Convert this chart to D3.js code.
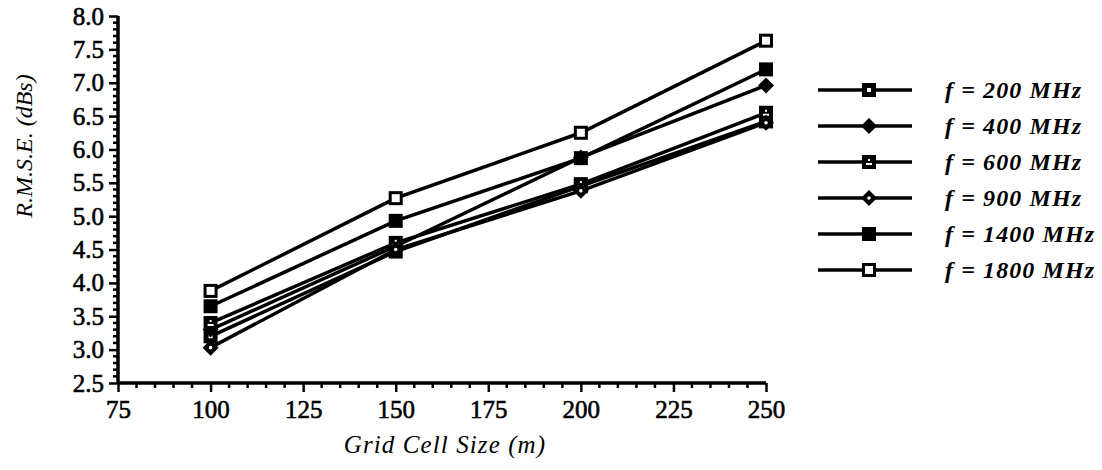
<!DOCTYPE html>
<html>
<head>
<meta charset="utf-8">
<script src="https://cdn.jsdelivr.net/npm/d3@7"></script>
<style>
  body { margin: 0; background: #fff; }
  svg text { font-family: "Liberation Serif", "Times New Roman", serif; fill: #000; }
</style>
</head>
<body>
<div id="chart"></div>
<script>
const width = 1102;
const height = 470;

// data
const gridSizes = [100, 150, 200, 250];
const seriesNames = ["f = 200 MHz", "f = 400 MHz", "f = 600 MHz", "f = 900 MHz", "f = 1400 MHz", "f = 1800 MHz"];
const markerTypes = ["dotSquare", "diamond", "markSquare", "dotDiamond", "square", "openSquare"];
const f200 = [3.2, 4.47, 5.45, 6.42];
const f400 = [3.3, 4.55, 5.88, 6.96];
const f600 = [3.4, 4.6, 5.48, 6.55];
const f900 = [3.03, 4.5, 5.38, 6.4];
const f1400 = [3.65, 4.93, 5.87, 7.2];
const f1800 = [3.88, 5.27, 6.25, 7.63];
const seriesValues = [f200, f400, f600, f900, f1400, f1800];
const xTicks = [75, 100, 125, 150, 175, 200, 225, 250];
const yTicks = [2.5, 3.0, 3.5, 4.0, 4.5, 5.0, 5.5, 6.0, 6.5, 7.0, 7.5, 8.0];

const svg = d3.select('#chart')
              .append('svg')
              .attr('width', width)
              .attr('height', height);

const xScale = d3.scaleLinear().domain([75, 250]).range([118, 766]);
const yScale = d3.scaleLinear().domain([2.5, 8]).range([383, 16]);

// minor ticks
const xMinor = d3.range(75, 251, 5).filter(v => v % 25 !== 0);
const yMinor = d3.range(25, 81, 1).map(v => v / 10).filter(v => Math.round(v * 10) % 5 !== 0);

const xAxis = d3.axisBottom(xScale).tickValues(xTicks).tickSize(9).tickPadding(8)
                .tickFormat(d3.format('d'));
const yAxis = d3.axisLeft(yScale).tickValues(yTicks).tickSize(9).tickPadding(5)
                .tickFormat(d3.format('.1f'));

const gx = svg.append('g')
              .attr('transform', `translate(0,${yScale(2.5)})`)
              .call(xAxis);
gx.append('g').selectAll('line')
  .data(xMinor)
  .enter()
  .append('line')
  .attr('x1', d => xScale(d)).attr('x2', d => xScale(d))
  .attr('y1', 0).attr('y2', 5)
  .attr('stroke', '#000').attr('stroke-width', 2.5);

const gy = svg.append('g')
              .attr('transform', `translate(${xScale(75)},0)`)
              .call(yAxis);
gy.append('g').selectAll('line')
  .data(yMinor)
  .enter()
  .append('line')
  .attr('y1', d => yScale(d)).attr('y2', d => yScale(d))
  .attr('x1', 0).attr('x2', -5)
  .attr('stroke', '#000').attr('stroke-width', 2.5);

[gx, gy].forEach(g => {
  g.attr('font-family', null);
  g.select('.domain').attr('stroke', '#000').attr('stroke-width', 3.5);
  g.selectAll('.tick line').attr('stroke', '#000').attr('stroke-width', 2.5);
  g.selectAll('.tick text')
   .style('font-size', '25px')
   .attr('stroke', '#000').attr('stroke-width', 0.6);
});
gy.select('.domain').attr('d', `M0,${yScale(8)}V${yScale(2.5)}`);
gx.select('.domain').attr('d', `M${xScale(75)},0H${xScale(250)}`);

// axis titles
svg.append('text')
   .attr('x', 445)
   .attr('y', 453)
   .attr('text-anchor', 'middle')
   .style('font-size', '25px')
   .style('font-style', 'italic')
   .style('letter-spacing', '1.1px')
   .text('Grid Cell Size (m)');

svg.append('text')
   .attr('transform', 'translate(32,146) rotate(-90)')
   .attr('text-anchor', 'middle')
   .style('font-size', '24px')
   .style('font-style', 'italic')
   .text('R.M.S.E.  (dBs)');

function drawMarker(g, type, cx, cy) {
  const s = 14;
  if (type === 'diamond' || type === 'dotDiamond') {
    const r = 8;
    g.append('path')
     .attr('d', `M${cx},${cy - r}L${cx + r},${cy}L${cx},${cy + r}L${cx - r},${cy}Z`)
     .attr('fill', '#000');
    if (type === 'dotDiamond') {
      g.append('circle').attr('cx', cx).attr('cy', cy).attr('r', 1.8).attr('fill', '#fff');
    }
  } else {
    g.append('rect')
     .attr('x', cx - s / 2).attr('y', cy - s / 2)
     .attr('width', s).attr('height', s)
     .attr('fill', '#000');
    if (type === 'openSquare') {
      g.append('rect').attr('x', cx - 4).attr('y', cy - 4).attr('width', 8).attr('height', 8)
       .attr('fill', '#fff');
    } else if (type === 'dotSquare') {
      g.append('rect').attr('x', cx - 2).attr('y', cy - 2).attr('width', 4).attr('height', 4)
       .attr('fill', '#fff');
    } else if (type === 'markSquare') {
      g.append('rect').attr('x', cx - 3).attr('y', cy + 1).attr('width', 6).attr('height', 2)
       .attr('fill', '#fff');
      g.append('rect').attr('x', cx - 1).attr('y', cy - 3).attr('width', 2).attr('height', 2)
       .attr('fill', '#fff');
    }
  }
}

const line = d3.line()
               .x((d, i) => xScale(gridSizes[i]))
               .y(d => yScale(d));

const plot = svg.append('g');
seriesValues.forEach((vals, k) => {
  plot.append('path')
      .datum(vals)
      .attr('d', line)
      .attr('fill', 'none')
      .attr('stroke', '#000')
      .attr('stroke-width', 3.5);
});
seriesValues.forEach((vals, k) => {
  vals.forEach((v, i) => drawMarker(plot, markerTypes[k], xScale(gridSizes[i]), yScale(v)));
});

// legend
const legend = svg.append('g');
seriesNames.forEach((name, k) => {
  const ly = 90 + k * 36;
  legend.append('line')
        .attr('x1', 818).attr('x2', 912)
        .attr('y1', ly).attr('y2', ly)
        .attr('stroke', '#000').attr('stroke-width', 3.5);
  drawMarker(legend, markerTypes[k], 869, ly);
  legend.append('text')
        .attr('x', 945)
        .attr('y', ly + 8)
        .style('font-size', '24px')
        .style('font-style', 'italic')
        .style('font-weight', 'bold')
        .style('letter-spacing', '1.1px')
        .text(name);
});
</script>
</body>
</html>
